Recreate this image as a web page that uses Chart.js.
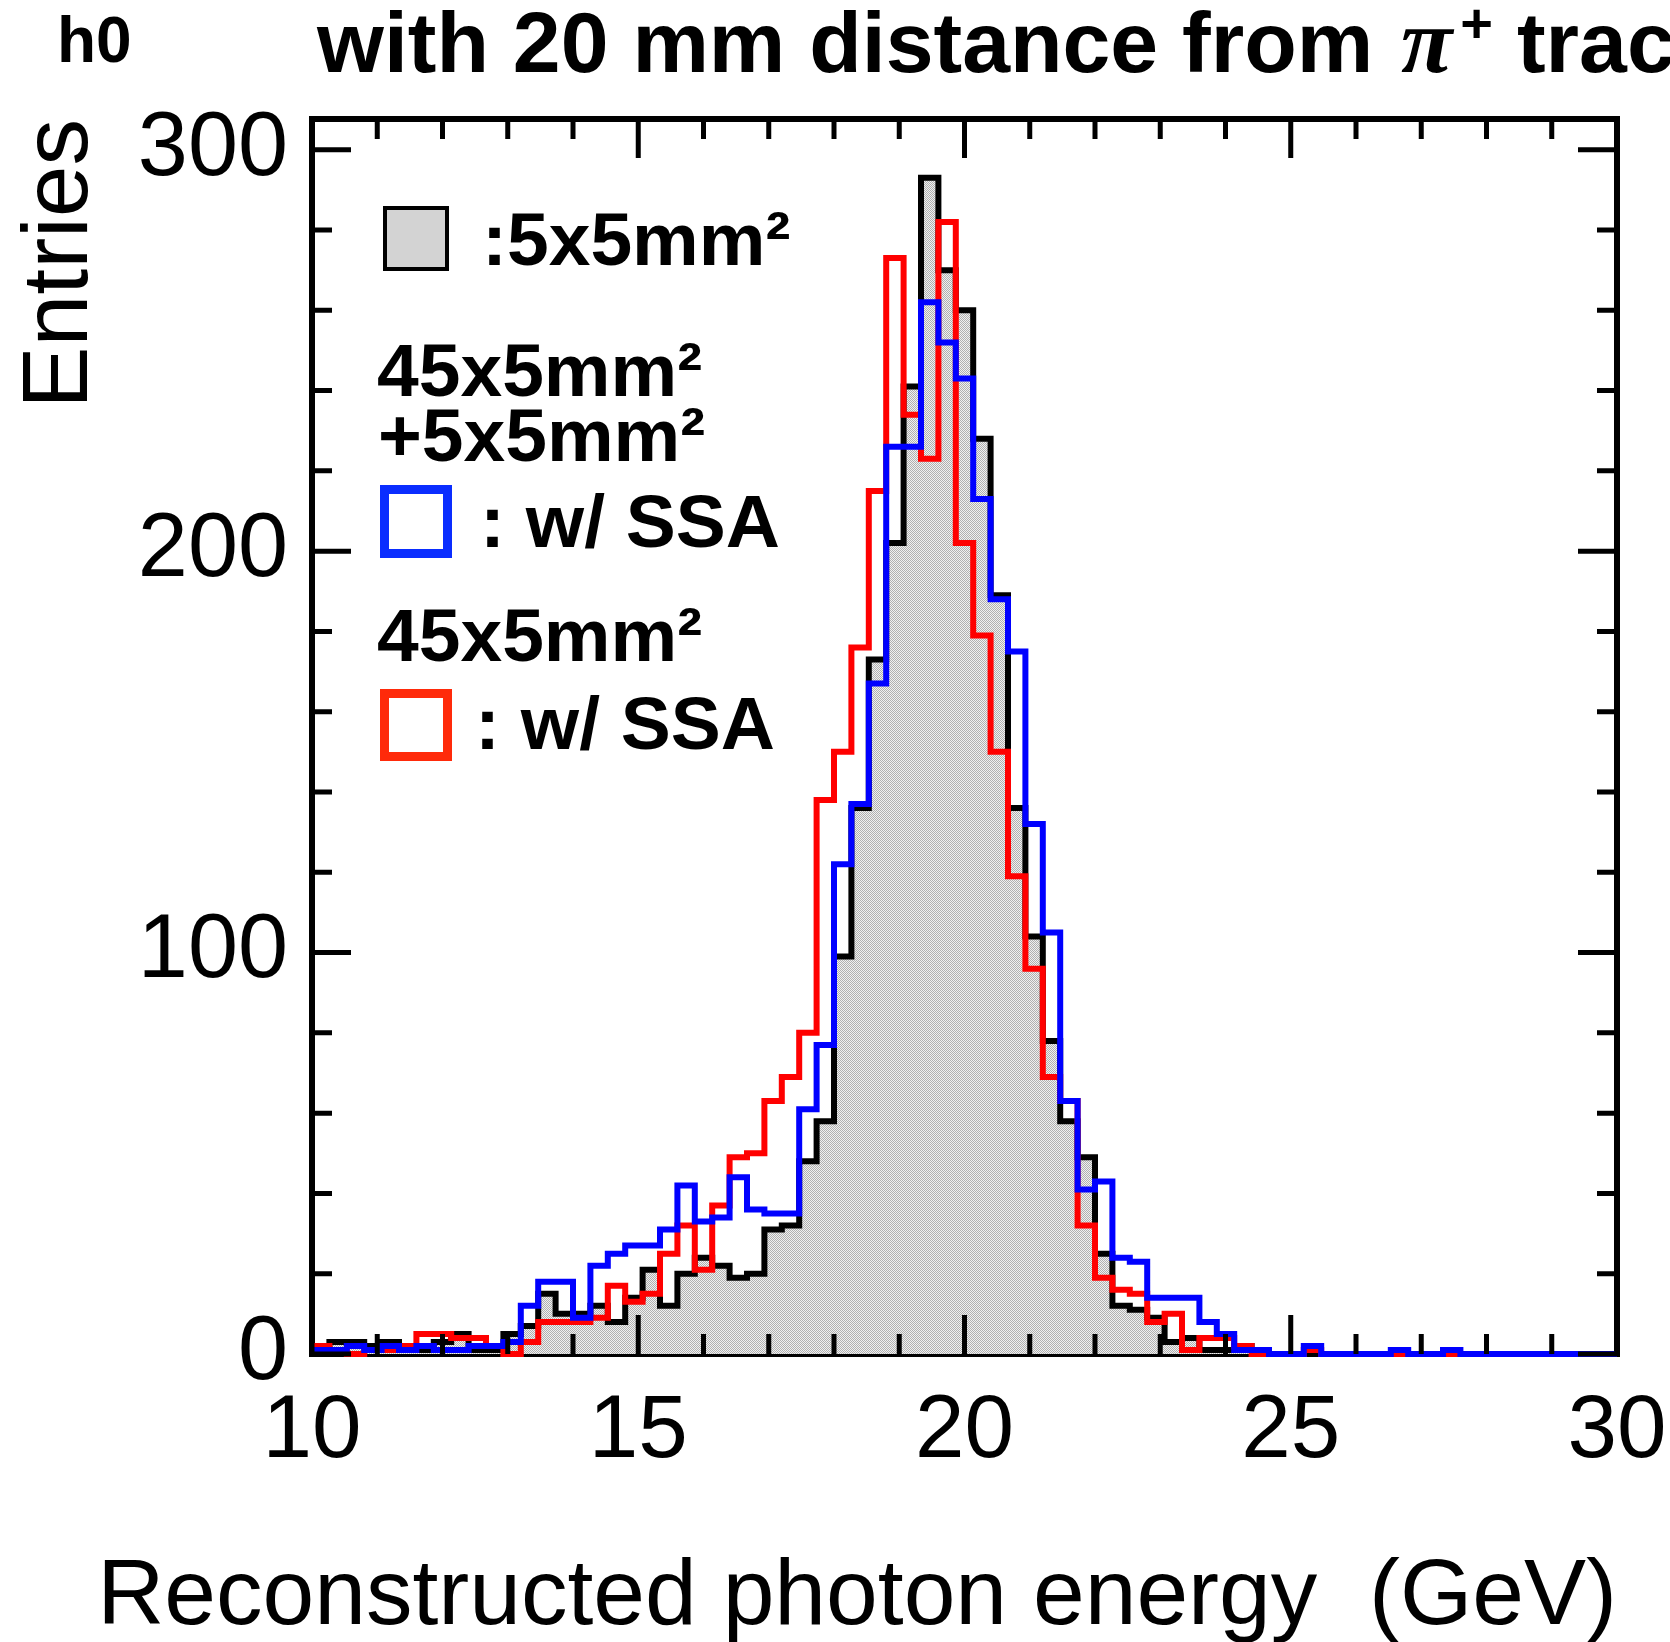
<!DOCTYPE html>
<html><head><meta charset="utf-8">
<script src="https://cdn.jsdelivr.net/npm/chart.js@4/dist/chart.umd.min.js"></script>
<style>html,body{margin:0;padding:0;background:#fff;}#wrap{width:1670px;height:1642px;position:relative;}canvas{display:block;}</style>
</head><body><div id="wrap"><canvas id="c" width="1670" height="1642"></canvas></div>
<script>
// ---- data ----
const X_MIN = 10, X_MAX = 30, N_BINS = 75;
const Y_MAX = 307.65;
const xTickValues = [10, 15, 20, 25, 30];
const yTickValues = [0, 100, 200, 300];
const seriesLabels = [':5x5mm²', '45x5mm² +5x5mm² : w/ SSA', '45x5mm² : w/ SSA'];
const counts5x5 = [1,3,3,2,3,2,1,3,5,1, 1,5,7,15,10,10,12,8,14,21, 12,20,24,22,19,20,31,32,48,58,
  99,136,173,202,241,293,270,260,228,189, 136,104,78,58,49,25,12,11,9,3, 4,1,1,2,1,0,0,0,0,0,
  0,0,0,0,0,0,0,0,0,0, 0,0,0,0,0];
const counts45SSAplus5 = [1,1,2,1,2,1,2,1,1,2, 2,3,12,18,18,9,22,25,27,27, 31,42,33,34,44,36,35,35,61,77,
  122,137,167,226,226,262,252,243,213,188, 175,132,105,63,41,43,24,23,14,14, 14,8,5,1,1,0,0,2,0,0,
  0,0,1,0,0,1,0,0,0,0, 0,0,0,0,0];
const counts45SSA = [2,1,0,1,1,2,5,5,4,4, 2,0,3,8,8,8,9,17,13,15, 25,32,21,37,49,50,63,69,80,138,
  150,176,215,273,234,223,282,202,179,150, 119,96,69,63,32,19,16,15,8,10, 1,4,4,2,0,0,0,1,0,0,
  0,0,0,0,0,0,0,0,0,0, 0,0,0,0,0];

const binWidth = (X_MAX - X_MIN) / N_BINS;
function toSteps(counts) {
  const pts = counts.map((v, i) => ({x: X_MIN + i * binWidth, y: v}));
  pts.push({x: X_MAX, y: counts[counts.length - 1]});
  return pts;
}

const canvas = document.getElementById('c');
const mainCtx = canvas.getContext('2d');
function makePattern() {
  const c = document.createElement('canvas'); c.width = 2; c.height = 2;
  const g = c.getContext('2d');
  g.fillStyle = '#f0f0f0'; g.fillRect(0, 0, 2, 2);
  g.fillStyle = '#b0b0b0'; g.fillRect(0, 0, 1, 1); g.fillRect(1, 1, 1, 1);
  return mainCtx.createPattern(c, 'repeat');
}

const SANS = '"Liberation Sans", Arial, Helvetica, sans-serif';

const decor = {
  id: 'decor',
  beforeDatasetsDraw(chart) {
    const {ctx, chartArea: a} = chart;
    ctx.save();
    ctx.strokeStyle = '#000'; ctx.lineWidth = 6;
    ctx.strokeRect(a.left, a.top, a.right - a.left, a.bottom - a.top);
    ctx.restore();
  },
  afterDatasetsDraw(chart) {
    const {ctx, chartArea: a, scales: {x, y}} = chart;
    ctx.save();
    ctx.strokeStyle = '#000'; ctx.lineWidth = 5; ctx.lineCap = 'butt';
    ctx.beginPath();
    for (let v = X_MIN; v <= X_MAX; v += 1) {
      const px = x.getPixelForValue(v);
      const len = (v % 5 === 0) ? 39 : 20;
      ctx.moveTo(px, a.bottom); ctx.lineTo(px, a.bottom - len);
      ctx.moveTo(px, a.top); ctx.lineTo(px, a.top + len);
    }
    for (let v = 0; v <= Y_MAX; v += 20) {
      const py = y.getPixelForValue(v);
      const len = (v % 100 === 0) ? 39 : 20;
      ctx.moveTo(a.left, py); ctx.lineTo(a.left + len, py);
      ctx.moveTo(a.right, py); ctx.lineTo(a.right - len, py);
    }
    ctx.stroke();
    ctx.restore();
  },
  afterDraw(chart) {
    const {ctx, chartArea: a} = chart;
    ctx.save();
    ctx.fillStyle = '#000';
    ctx.textBaseline = 'alphabetic';
    // h0
    ctx.font = 'bold 64px ' + SANS;
    ctx.textAlign = 'left';
    ctx.fillText('h0', 57, 62);
    // main title
    let tx = 317; const ty = 72;
    ctx.font = 'bold 86px ' + SANS;
    const t1 = 'with 20 mm distance from ';
    ctx.fillText(t1, tx, ty); tx += ctx.measureText(t1).width;
    ctx.font = 'italic bold 94px "Liberation Serif", "Times New Roman", serif';
    ctx.fillText('π', tx + 4, ty); tx += 4 + ctx.measureText('π').width;
    ctx.font = 'bold 56px ' + SANS;
    ctx.fillText('+', tx + 8, ty - 30); tx += 8 + ctx.measureText('+').width;
    ctx.font = 'bold 86px ' + SANS;
    ctx.fillText(' track', tx, ty);
    // x title
    ctx.font = '93px ' + SANS;
    ctx.textAlign = 'right';
    ctx.fillText('Reconstructed photon energy  (GeV)', a.right, 1624);
    // legend
    ctx.textAlign = 'left';
    ctx.fillStyle = '#d3d3d3';
    ctx.fillRect(385, 208, 62, 61);
    ctx.strokeStyle = '#000'; ctx.lineWidth = 4;
    ctx.strokeRect(385, 208, 62, 61);
    ctx.lineWidth = 9;
    ctx.strokeStyle = '#0a2dff';
    ctx.strokeRect(384.5, 489.5, 63, 64);
    ctx.strokeStyle = '#ff2a0a';
    ctx.strokeRect(384.5, 693.5, 63, 63);
    ctx.fillStyle = '#000';
    ctx.font = 'bold 75px ' + SANS;
    ctx.fillText(':5x5mm²', 482, 265);
    ctx.fillText('45x5mm²', 377, 396);
    ctx.fillText('+5x5mm²', 378, 461);
    ctx.fillText(': w/ SSA', 480, 547);
    ctx.fillText('45x5mm²', 377, 661);
    ctx.fillText(': w/ SSA', 475, 749);
    ctx.restore();
  }
};

const pattern = makePattern();
new Chart(mainCtx, {
  type: 'line',
  data: {
    datasets: [
      {label: seriesLabels[1], data: toSteps(counts45SSAplus5), borderColor: '#0000ff', borderWidth: 6,
       stepped: true, pointRadius: 0, fill: false, order: 0, clip: false},
      {label: seriesLabels[2], data: toSteps(counts45SSA), borderColor: '#ff0000', borderWidth: 6,
       stepped: true, pointRadius: 0, fill: false, order: 1, clip: false},
      {label: seriesLabels[0], data: toSteps(counts5x5), borderColor: '#000000', borderWidth: 6,
       backgroundColor: pattern, stepped: true, pointRadius: 0, fill: 'origin', order: 2, clip: false}
    ]
  },
  options: {
    responsive: false, animation: false, devicePixelRatio: 1,
    layout: {autoPadding: false, padding: {left: 0, right: 53, top: 119, bottom: 0}},
    plugins: {legend: {display: false}, tooltip: {enabled: false}, title: {display: false}},
    scales: {
      x: {
        type: 'linear', min: X_MIN, max: X_MAX, position: 'bottom',
        grid: {display: false, drawTicks: false}, border: {display: false},
        afterBuildTicks: s => { s.ticks = xTickValues.map(v => ({value: v})); },
        afterFit: s => { s.height = 288; s.paddingLeft = 0; s.paddingRight = 0; },
        ticks: {autoSkip: false, maxRotation: 0, padding: 25, color: '#000',
                font: {family: SANS, size: 89}, callback: v => String(v)}
      },
      y: {
        type: 'linear', min: 0, max: Y_MAX, position: 'left',
        grid: {display: false, drawTicks: false}, border: {display: false},
        afterBuildTicks: s => { s.ticks = yTickValues.map(v => ({value: v})); },
        afterFit: s => { s.width = 312; s.paddingTop = 0; s.paddingBottom = 0; },
        ticks: {autoSkip: false, padding: 24, color: '#000',
                font: {family: SANS, size: 90}, callback: v => String(v)},
        title: {display: true, text: 'Entries', align: 'end', color: '#000',
                font: {family: SANS, size: 93, lineHeight: 1.2}, padding: {top: 6, bottom: 0}}
      }
    }
  },
  plugins: [decor]
});
</script></body></html>
